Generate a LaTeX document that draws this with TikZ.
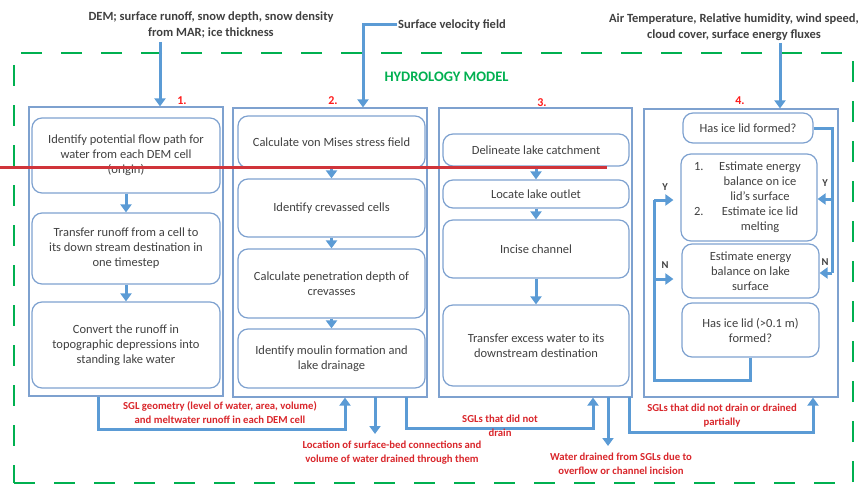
\documentclass[tikz,border=0pt]{standalone}
\usepackage{fontspec}
\setmainfont{Carlito}
\usetikzlibrary{arrows.meta}
\definecolor{arrowblue}{HTML}{5B9BD5}
\definecolor{boxblue}{HTML}{7EA1CF}
\definecolor{modelgreen}{HTML}{00B050}
\definecolor{textgray}{HTML}{404040}
\definecolor{labelred}{HTML}{D9262B}
\definecolor{numred}{HTML}{FF1A1A}
\definecolor{overline}{HTML}{D0343A}
\begin{document}
\begin{tikzpicture}[x=1pt,y=-1pt,
  outerbox/.style={draw=modelgreen, line width=2.8pt, dash pattern=on 21pt off 19pt, inner sep=0},
  colbox/.style={draw=boxblue, line width=1.2pt, inner sep=0},
  rbox/.style={draw=boxblue, line width=1.2pt, rounded corners=10pt, align=center, inner sep=2pt,
    text=textgray, font=\fontsize{12.5}{15}\selectfont},
  flow/.style={draw=arrowblue, line width=3pt, -{Triangle[width=11pt,length=8pt]}},
  plain/.style={draw=arrowblue, line width=3pt},
  intext/.style={text=textgray, align=center, font=\bfseries\fontsize{12.5}{16}\selectfont, inner sep=1pt},
  redlab/.style={text=labelred, align=center, font=\bfseries\fontsize{10.7}{14}\selectfont, inner sep=1pt},
  numlab/.style={text=numred, font=\bfseries\fontsize{12}{14}\selectfont, inner sep=0},
  yn/.style={text=textgray, font=\bfseries\fontsize{10.5}{12}\selectfont, inner sep=0},
  redrule/.style={draw=overline, line width=3pt}
]
\useasboundingbox (0,0) rectangle (867,487);

% outer model frame
\node[outerbox, minimum width=839pt, minimum height=430pt] (model) at (433.5,268) {};
\node[text=modelgreen, font=\bfseries\fontsize{14.5}{16}\selectfont] (title) at (446.5,77) {HYDROLOGY MODEL};

% column boxes
\node[colbox, minimum width=194pt, minimum height=289pt] (c1) at (126,251.5) {};
\node[colbox, minimum width=194pt, minimum height=289pt] (c2) at (330,252.5) {};
\node[colbox, minimum width=193pt, minimum height=289pt] (c3) at (535.5,252.5) {};
\node[colbox, minimum width=194pt, minimum height=288pt] (c4) at (741,253) {};

\node[numlab] (n1) at (182,101) {1.};
\node[numlab] (n2) at (333,101) {2.};
\node[numlab] (n3) at (542,103) {3.};
\node[numlab] (n4) at (740,101) {4.};

% column 1
\node[rbox, minimum width=188pt, minimum height=75pt] (a1) at (126,155.5) {Identify potential flow path for\\water from each DEM cell\\(origin)};
\node[rbox, minimum width=188pt, minimum height=71pt] (a2) at (126,248.5) {Transfer runoff from a cell to\\its down stream destination in\\one timestep};
\node[rbox, minimum width=188pt, minimum height=86pt] (a3) at (126,345) {Convert the runoff in\\topographic depressions into\\standing lake water};
\draw[flow] (a1.south) -- (a2.north);
\draw[flow] (a2.south) -- (a3.north);

% column 2
\node[rbox, minimum width=187pt, minimum height=52pt] (b1) at (331.5,142) {Calculate von Mises stress field};
\node[rbox, minimum width=187pt, minimum height=58pt] (b2) at (331.5,208) {Identify crevassed cells};
\node[rbox, minimum width=187pt, minimum height=69pt] (b3) at (331.5,283.5) {Calculate penetration depth of\\crevasses};
\node[rbox, minimum width=187pt, minimum height=59pt] (b4) at (331.5,358.5) {Identify moulin formation and\\lake drainage};
\draw[flow] (b1.south) -- (b2.north);
\draw[flow] (b2.south) -- (b3.north);
\draw[flow] (b3.south) -- (b4.north);

% column 3
\node[rbox, minimum width=186pt, minimum height=32pt] (d1) at (536,150) {Delineate lake catchment};
\node[rbox, minimum width=186pt, minimum height=28pt] (d2) at (536,194) {Locate lake outlet};
\node[rbox, minimum width=186pt, minimum height=58pt] (d3) at (536,249) {Incise channel};
\node[rbox, minimum width=186pt, minimum height=81pt] (d4) at (536,345.5) {Transfer excess water to its\\downstream destination};
\draw[flow] (d1.south) -- (d2.north);
\draw[flow] (d2.south) -- (d3.north);
\draw[flow] (d3.south) -- (d4.north);

% column 4
\node[rbox, minimum width=130pt, minimum height=30pt] (q1) at (748,128) {Has ice lid formed?};
\node[rbox, minimum width=136pt, minimum height=87pt] (q2) at (749,197.5) {%
  \makebox[22pt][l]{1.}\makebox[88pt]{Estimate energy}\\
  \makebox[22pt][l]{}\makebox[88pt]{balance on ice}\\
  \makebox[22pt][l]{}\makebox[88pt]{lid’s surface}\\
  \makebox[22pt][l]{2.}\makebox[88pt]{Estimate ice lid}\\
  \makebox[22pt][l]{}\makebox[88pt]{melting}};
\node[rbox, minimum width=137pt, minimum height=54pt] (q3) at (750.5,271) {Estimate energy\\balance on lake\\surface};
\node[rbox, minimum width=137pt, minimum height=54pt] (q4) at (750.5,330) {Has ice lid (>0.1 m)\\formed?};

\coordinate (r1) at (832,128);
\coordinate (r2) at (832,199);
\coordinate (r3) at (832,273);
\draw[plain] (q1.east) -- (r1) -- (r3);
\draw[flow] (r2) -- (r2 -| q2.east);
\draw[flow] (r3) -- (r3 -| q3.east);
\node[yn] (y1) at (825,183) {Y};
\node[yn] (nn1) at (825,262) {N};

\coordinate (l0) at (654,380);
\coordinate (l1) at (654,200);
\coordinate (l2) at (654,279);
\draw[plain] (q4.south) |- (l0) -- (l1);
\draw[flow, shorten >=7pt] (l1) -- (l1 -| q2.west);
\draw[flow, shorten >=8pt] (l2) -- (l2 -| q3.west);
\node[yn] (y2) at (665,187) {Y};
\node[yn] (nn2) at (665,265) {N};

% inputs
\node[intext] (in1) at (211,25) {DEM; surface runoff, snow depth, snow density\\from MAR; ice thickness};
\node[intext, anchor=west] (in2) at (397,25) {Surface velocity field};
\node[intext] (in3) at (734,27) {Air Temperature, Relative humidity, wind speed,\\cloud cover, surface energy fluxes};
\coordinate (t1) at (160,42);
\coordinate (t2) at (363,25);
\coordinate (t3) at (780,43);
\draw[flow] (t1) -- (t1 |- c1.north);
\draw[flow] (in2.west) -- (t2) -- (t2 |- c2.north);
\draw[flow] (t3) -- (t3 |- c4.north);

% outputs / feedbacks
\coordinate (s1) at (98,397);
\coordinate (s1b) at (98,429);
\coordinate (s1c) at (345,429);
\draw[flow] (s1) -- (s1b) -- (s1c) -- (s1c |- c2.south);
\node[redlab] (lab1) at (220,413) {SGL geometry (level of water, area, volume)\\and meltwater runoff in each DEM cell};

\coordinate (s2) at (375,397);
\coordinate (s2b) at (375,434);
\draw[flow] (s2) -- (s2b);
\node[redlab] (lab2) at (392,453) {Location of surface-bed connections and\\volume of water drained through them};

\coordinate (s3) at (406,397);
\coordinate (s3b) at (406,428);
\coordinate (s3c) at (593,428);
\draw[flow] (s3) -- (s3b) -- (s3c) -- (s3c |- c3.south);
\node[redlab] (lab3) at (500,426) {SGLs that did not\\drain};

\coordinate (s4) at (608,397);
\coordinate (s4b) at (608,446);
\draw[flow] (s4) -- (s4b);
\node[redlab] (lab4) at (621,464) {Water drained from SGLs due to\\overflow or channel incision};

\coordinate (s5) at (629,397);
\coordinate (s5b) at (629,432);
\coordinate (s5c) at (813,432);
\draw[flow] (s5) -- (s5b) -- (s5c) -- (s5c |- c4.south);
\node[redlab] (lab5) at (722,416) {SGLs that did not drain or drained\\partially};

% overlaid rule
\coordinate (h0) at (0,167);
\coordinate (h1) at (607,167);
\draw[redrule] (h0) -- (h1);
\end{tikzpicture}
\end{document}
